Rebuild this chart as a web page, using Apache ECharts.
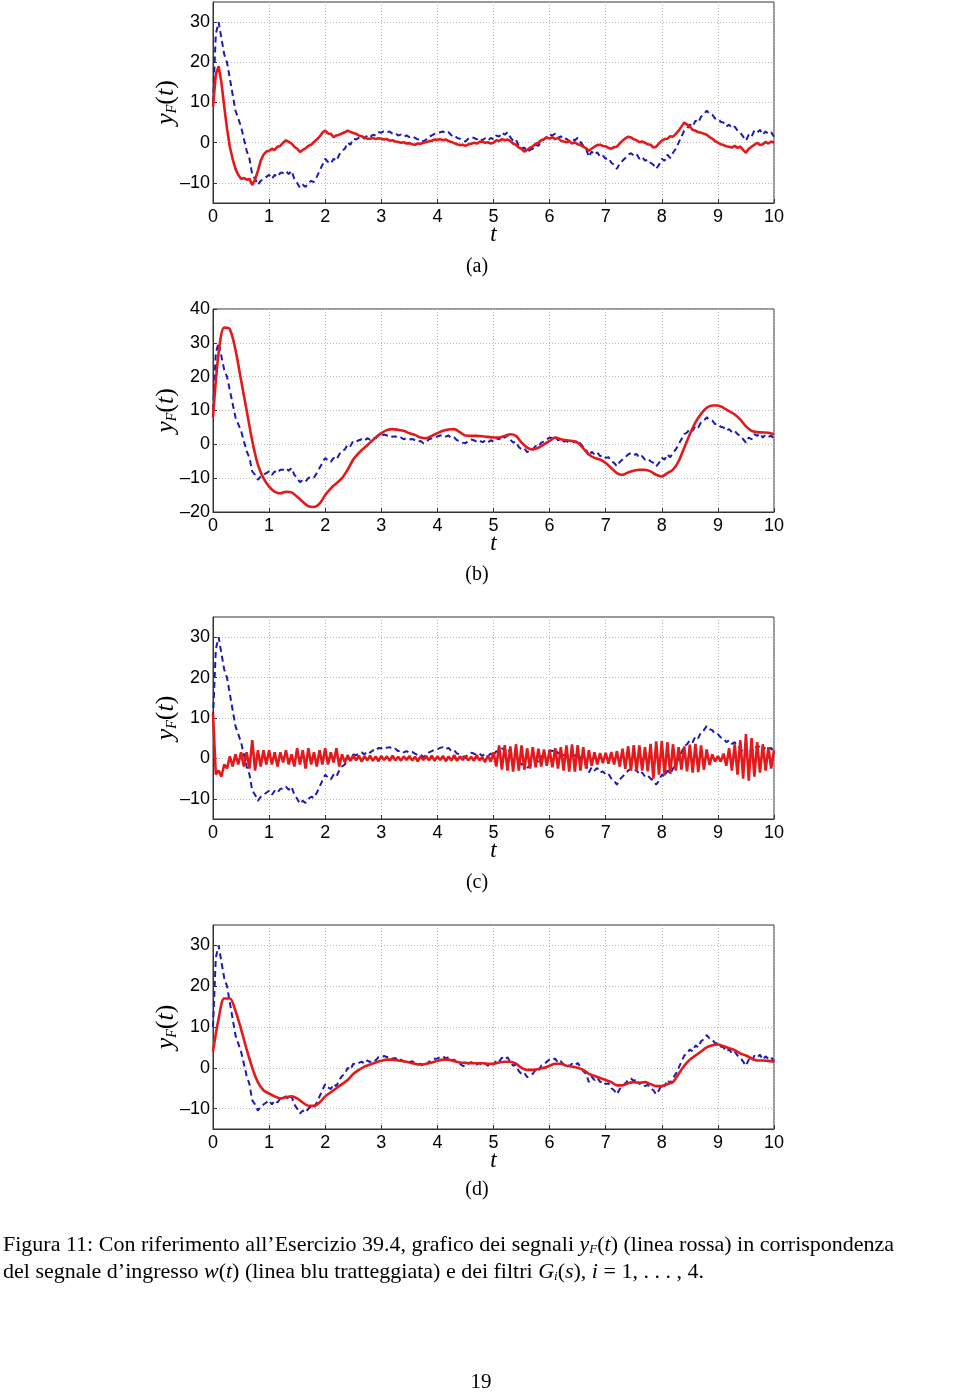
<!DOCTYPE html>
<html><head><meta charset="utf-8">
<script src="https://cdn.jsdelivr.net/npm/echarts@6/dist/echarts.min.js"></script>
<style>html,body{margin:0;padding:0;background:#fff}#c{width:960px;height:1392px}</style>
</head><body><div id="c"></div>
<script>
// ---- DATA ----
// input signal w(t), sampled every 0.05 s from t = 0 to 10 (blue dashed, same in all panels)
const W = [10,27,30,26,22,20,16,12,8,6,4,1,-2,-4,-8,-9,-10.5,-9.5,-9,-8.5,
 -8,-9,-8,-8.5,-7.5,-7.5,-7,-7.8,-7,-9,-10,-11.2,-10.5,-11,-10,-9.5,-9.8,-8.5,-7,-5.5,
 -4,-4.8,-5.2,-4,-4.5,-3,-2,-1.5,0,-0.5,1,0.8,1.2,1.5,1,1.8,1.4,2,1.8,2.6,
 2.5,2.9,2.6,2.8,2.2,2.4,1.8,2,1.5,1.8,1.4,1.6,1.2,0.8,1,0.3,0.8,1.5,1.8,2.2,
 2.3,2.6,2.8,2.3,2.6,1.8,2,1.2,1,0.5,0.3,1,1.4,1.2,0.8,1.2,0.6,1.1,0.5,1.2,
 0.8,1.8,1.5,2.5,2,2.6,1.4,0.5,0.8,-0.8,-1.5,-1.2,-2.3,-1.8,-1.5,-0.5,-0.8,0.5,0.8,1.5,
 2,1.8,2.3,1.2,1.6,0.8,1,0.4,1,0.6,1.2,0.2,-0.8,-1.5,-3.5,-2.2,-3,-2.4,-3.5,-3.2,
 -4,-3.8,-5,-5.5,-6.5,-5.2,-4.5,-3.8,-3,-2.6,-3.2,-2.8,-4,-3.5,-4.5,-4.2,-5,-5.5,-6.5,-5.5,
 -4,-4.5,-3,-3.8,-2.5,-1.5,0,1.5,3,3.5,4.5,4,5.5,5,6.5,7,8,7.2,7,6,
 6,5.2,5,4,4.5,3.6,4,3,2.5,1.5,0.5,2,1.5,3,2.5,3.2,2,2.8,2.2,2.6,
 1.5];
// y_F(t) for filter G1, every 0.05 s (panel a)
const YA = [9,17,19,15,9,3.5,-1,-4,-6.5,-8,-9,-8.8,-9.2,-9,-10.5,-9.2,-7,-4.5,-3,-2.2,
 -2,-1.5,-1.8,-1,-0.8,0,0.6,0.2,-0.2,-1,-1.5,-2.3,-1.8,-1.4,-0.8,-0.5,0.2,0.8,1.5,2.5,
 3,2.3,2.2,1.4,1.8,2,2.3,2.6,3,2.7,2.4,2.2,1.8,1.6,1.3,1,1,1.2,0.9,1.1,
 1,0.8,0.9,0.5,0.6,0.3,0.2,0,0.1,-0.2,-0.1,-0.4,-0.5,-0.2,-0.3,0,0.1,0.4,0.5,0.8,
 0.7,0.9,0.6,0.8,0.4,0.2,-0.1,-0.4,-0.6,-0.5,-0.8,-0.4,-0.3,0,-0.2,0.2,0.3,0,0.1,-0.2,
 0,0.6,0.4,0.9,0.6,0.8,0.4,-0.2,-0.5,-1.2,-1.5,-2.2,-1.8,-1.3,-0.9,-0.3,0,0.6,0.9,1.3,
 1,1.4,0.9,1.2,0.5,0.3,0.1,0.4,-0.2,0.1,-0.4,-0.6,-1,-1.4,-2,-1.5,-1,-0.6,-0.5,-0.8,
 -0.9,-1.3,-1.5,-1.1,-1,-0.2,0.5,1.1,1.5,1.3,0.9,0.6,0.1,0.3,0,-0.4,-0.5,-1.2,-1,-0.2,
 0.5,0.9,1,1.6,1.5,2.2,3,4,5,4.5,4,3.2,3,2.6,2.5,2.2,2,1.4,1,0.4,
 0,-0.4,-0.6,-0.9,-1,-1.2,-0.8,-1.3,-1,-1.8,-2.5,-1.5,-1,-0.5,0,-0.6,-0.4,0.2,-0.2,0.3,
 0];
// y_F(t) for filter G2, every 0.1 s (panel b)
const YB = [8,27,34.5,34,28,19,10,1,-6,-10,
 -12.5,-14,-14.5,-14,-14.2,-15.5,-17,-18.3,-18.5,-17.5,
 -15,-13,-11.5,-10,-7.5,-4.5,-2.5,-1,0.5,2,
 3.3,4.2,4.5,4.3,4,3.3,2.8,2,1.8,2.5,
 3.3,4,4.4,4.5,3.6,2.6,2.5,2.5,2.4,2.2,
 2,2,2.5,3,2.5,0.5,-1,-1.5,-1,0,
 1,2,1.5,1.2,1,0.5,-1.2,-3,-4,-4.5,
 -5.5,-7,-8.5,-9,-8.3,-7.8,-7.5,-7.5,-8,-9,
 -9.5,-8.5,-7.5,-5,-1,3,6.5,9,10.8,11.5,
 11.5,10.8,9.8,8.8,7.3,5.3,4,3.6,3.5,3.4,
 3];
// y_F(t) for filter G3, every 0.05 s (panel c)
const YC = [11,-4,-3,-4.5,-1.5,-2.5,0.5,-2,1,-1.5,1.5,-2,1.5,-2.5,4.5,-3,2,-2,2,-1.5,
 2,-1.5,1.5,-2,1.5,-1,2,-1.5,1,-2,2.5,-1.5,2,-2.5,2.5,-1.5,1.5,-2,2,-1.5,
 2.5,-1.5,1.5,-1,2.5,-2,1,-1,0.8,-0.6,0.8,-0.5,0.7,-0.8,0.6,-0.5,0.7,-0.6,0.5,-0.7,
 0.6,-0.4,0.5,-0.6,0.7,-0.5,0.4,-0.6,0.5,-0.4,0.6,-0.5,0.4,-0.7,0.5,-0.4,0.6,-0.5,0.7,-0.6,
 0.5,-0.4,0.6,-0.7,0.5,-0.5,0.8,-0.6,0.5,-0.4,0.6,-0.5,0.4,-0.6,0.8,-0.5,0.3,-0.9,0.7,-0.8,
 1.5,-2,3.2,-2.8,3.3,-3,3,-3.3,3.5,-3,3.2,-2.8,2.5,-2.5,2.8,-2.2,2.4,-2,2.2,-1.8,
 2,-2.2,2.5,-2.5,2.8,-3,3.2,-3.3,3.5,-3.3,3.3,-3,2.8,-2.5,2,-1.8,1.5,-1.5,1.3,-1.2,
 1.4,-1.3,1.6,-1.5,1.8,-2,2.4,-2.6,3,-3,3.3,-3.2,3.2,-3,2.8,-3.2,3.6,-5,4.2,-4,
 4.3,-4.2,4,-3.8,3.5,-3,2.8,-2.8,3,-3.2,3.4,-3.5,3.6,-3.4,3.2,-2.8,2.2,-1.6,1,-0.8,
 0.6,-0.8,1.2,-1.8,2.5,-3,3.5,-4,4.5,-5,6,-5.5,5,-4.5,4,-3.5,3.5,-3,2.8,-2.5,
 2];
// y_F(t) for filter G4, every 0.1 s (panel d)
const YD = [4,12,17,17,14,9.5,4.5,0,-3.5,-5.5,
 -6.3,-7,-7.5,-7.2,-7,-7.5,-8.5,-9.3,-9.3,-8.5,
 -7,-6,-5,-4,-3,-1.5,-0.5,0.3,0.8,1.3,
 1.7,2,2,1.8,1.6,1.3,1,0.8,1,1.3,
 1.7,2,2,1.6,1.3,1.2,1.1,1.1,1.1,1,
 1,1.3,1.5,1.5,1,0,-0.5,-0.5,-0.3,0,
 0.5,1,1,0.5,0.3,0,-0.5,-1.5,-2,-2.5,
 -3,-3.5,-4.3,-4.3,-3.8,-3.5,-3.7,-3.5,-4,-4.5,
 -4.5,-4,-3.5,-1.5,0.5,2,3,4,5,5.5,
 5.7,5.3,4.8,4.3,3.5,3,2.3,1.8,1.8,1.7,
 1.5];
const yTicksNarrow = [-10, 0, 10, 20, 30];
const panelLabels = ['(a)', '(b)', '(c)', '(d)'];
const captionLine1 = 'Figura 11: Con riferimento all\u2019Esercizio 39.4, grafico dei segnali {i|y}{s|F}({i|t}) (linea rossa) in corrispondenza';
const captionLine2 = 'del segnale d\u2019ingresso {i|w}({i|t}) (linea blu tratteggiata) e dei filtri {i|G}{s|i}({i|s}), {i|i} = 1, . . . , 4.';
const pageNumber = '19';

// ---- LAYOUT ----
function pairs(vals, step) {
  return vals.map((v, i) => [Math.round(i * step * 100) / 100, v]);
}
const panels = [
  {top: 2,   height: 201, min: -15, max: 35, red: YA, step: 0.05, smooth: false, capY: 267},
  {top: 309, height: 203, min: -20, max: 40, red: YB, step: 0.1,  smooth: 0.3,   capY: 575},
  {top: 617, height: 202, min: -15, max: 35, red: YC, step: 0.05, smooth: false, capY: 883},
  {top: 925, height: 204, min: -15, max: 35, red: YD, step: 0.1,  smooth: 0.3,   capY: 1190}
];
const SANS = 'Liberation Sans, Arial, sans-serif';
const SERIF = 'Liberation Serif, Times New Roman, serif';
const fmt = v => (v < 0 ? '\u2013' + (-v) : String(v));

const grid = [], xAxis = [], yAxis = [], series = [], graphic = [];
panels.forEach((p, k) => {
  grid.push({left: 213, right: 186, top: p.top, height: p.height, show: true,
    borderColor: '#333', borderWidth: 1, backgroundColor: '#fff'});
  xAxis.push({type: 'value', gridIndex: k, min: 0, max: 10, interval: 1,
    axisLine: {show: true, onZero: false, lineStyle: {color: '#333'}},
    axisTick: {show: true, inside: true, length: 4, lineStyle: {color: '#333'}},
    axisLabel: {color: '#000', fontFamily: SANS, fontSize: 18, margin: 5,
      showMinLabel: true, showMaxLabel: true, hideOverlap: false},
    splitLine: {show: true, lineStyle: {color: '#b8b8b8', type: [1, 2], width: 1}},
    name: 't', nameLocation: 'middle', nameGap: 20, nameMoveOverlap: false,
    nameTextStyle: {fontFamily: SERIF, fontStyle: 'italic', fontSize: 23, color: '#000'}});
  const ya = {type: 'value', gridIndex: k, min: p.min, max: p.max,
    axisLine: {show: true, onZero: false, lineStyle: {color: '#333'}},
    axisTick: {show: true, inside: true, length: 4, lineStyle: {color: '#333'}},
    axisLabel: {color: '#000', fontFamily: SANS, fontSize: 18, margin: 3, formatter: fmt,
      showMinLabel: true, showMaxLabel: true, hideOverlap: false},
    splitLine: {show: true, lineStyle: {color: '#b8b8b8', type: [1, 2], width: 1}},
    name: '{i|y}{s|F}({i|t})', nameLocation: 'middle', nameGap: 34, nameRotate: 90,
    nameMoveOverlap: false,
    nameTextStyle: {fontFamily: SERIF, fontSize: 26, color: '#000',
      rich: {i: {fontFamily: SERIF, fontStyle: 'italic', fontSize: 26, color: '#000'},
             s: {fontFamily: SERIF, fontStyle: 'italic', fontSize: 14, color: '#000', verticalAlign: 'bottom'}}}};
  if (p.min % 10 === 0) {
    ya.interval = 10;
  } else {
    ya.axisTick.customValues = yTicksNarrow;
    ya.axisLabel.customValues = yTicksNarrow;
  }
  yAxis.push(ya);
  series.push({type: 'line', xAxisIndex: k, yAxisIndex: k, data: pairs(W, 0.05),
    showSymbol: false, symbol: 'none', animation: false, z: 2,
    lineStyle: {color: '#1c1cb0', width: 2, type: [6, 4]}});
  series.push({type: 'line', xAxisIndex: k, yAxisIndex: k, data: pairs(p.red, p.step),
    showSymbol: false, symbol: 'none', animation: false, smooth: p.smooth, z: 3,
    lineStyle: {color: '#e4191c', width: 2.6}});
  graphic.push({type: 'text', x: 477, y: p.capY, style: {text: panelLabels[k],
    font: '20px ' + SERIF, fill: '#000', align: 'center', verticalAlign: 'middle'}});
});
const capRich = {i: {fontFamily: SERIF, fontStyle: 'italic', fontSize: 22, color: '#000'},
  s: {fontFamily: SERIF, fontStyle: 'italic', fontSize: 13, color: '#000', verticalAlign: 'bottom'}};
graphic.push({type: 'text', x: 3, y: 1245, style: {text: captionLine1, rich: capRich,
  font: '22px ' + SERIF, fill: '#000', align: 'left', verticalAlign: 'middle'}});
graphic.push({type: 'text', x: 3, y: 1272, style: {text: captionLine2, rich: capRich,
  font: '22px ' + SERIF, fill: '#000', align: 'left', verticalAlign: 'middle'}});
graphic.push({type: 'text', x: 481, y: 1382, style: {text: pageNumber,
  font: '21px ' + SERIF, fill: '#000', align: 'center', verticalAlign: 'middle'}});

const chart = echarts.init(document.getElementById('c'), null, {renderer: 'canvas'});
chart.setOption({animation: false, backgroundColor: '#fff', grid, xAxis, yAxis, series, graphic});
</script></body></html>
